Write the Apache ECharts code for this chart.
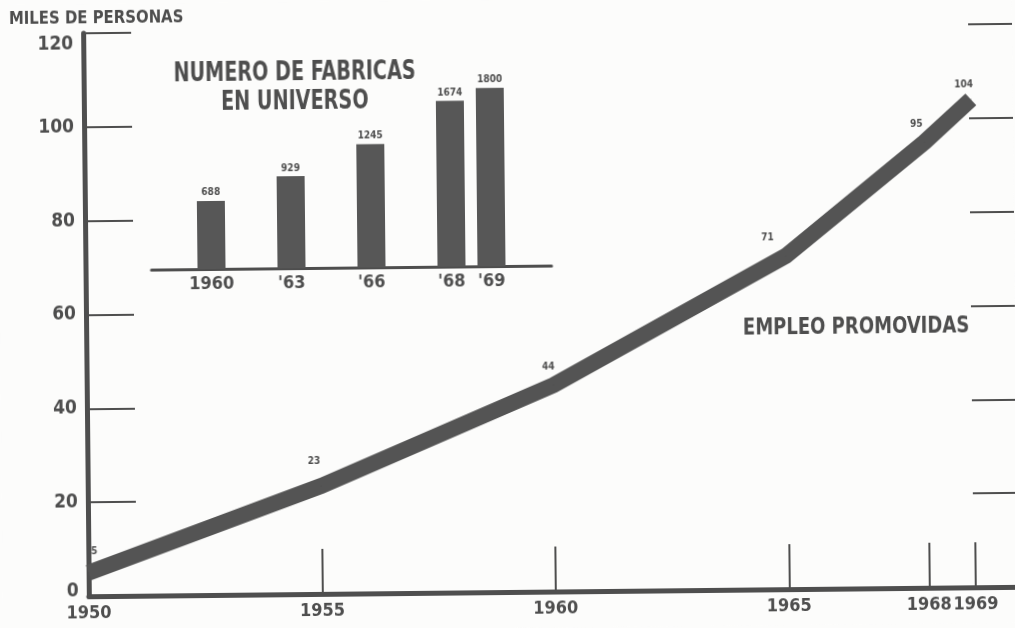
<!DOCTYPE html>
<html>
<head>
<meta charset="utf-8">
<title>Empleo promovidas</title>
<script src="https://cdn.jsdelivr.net/npm/echarts@6/dist/echarts.min.js"></script>
<style>
  html, body { margin: 0; padding: 0; background: #fcfcfb; overflow: hidden; }
  /* the scan is slightly tilted */
  #chart { width: 1015px; height: 628px; transform: rotate(-0.58deg); }
</style>
</head>
<body>
<div id="chart"></div>
<script>
  // main line: miles de personas
  const years = [1950, 1955, 1960, 1965, 1968, 1969]
  const empleo = [5, 23, 44, 71, 95, 104]
  const tickYears = [1955, 1960, 1965, 1968, 1969]

  // inset bars: numero de fabricas
  const fabricaLabels = ['1960', "'63", "'66", "'68", "'69"]
  const fabricas = [688, 929, 1245, 1674, 1800]

  const ink = '#4e4e4e'
  const font = "'Liberation Sans Narrow', 'DejaVu Sans Condensed', sans-serif"

  // where each point label sits (dx, dy)
  const labelShift = [[6, -12], [-7, -15], [-5, -9], [-18, -9], [-8, -8], [-7, -5]]
  // inset bars are not evenly spaced: slot of each bar on a 10 slot axis
  const insetSlots = [1, 3, 5, 7, 8]
  const slotCount = 10

  const insetCats = []
  const insetData = []
  for (let i = 0; i < slotCount; i++) {
    insetCats.push('')
    insetData.push(null)
  }
  insetSlots.forEach((s, i) => {
    insetCats[s] = fabricaLabels[i]
    insetData[s] = fabricas[i]
  })

  const lineData = years.map((y, i) => ({
    value: [y, empleo[i]],
    label: { offset: labelShift[i] }
  }))

  // condensed heading text
  function heading(text, x, y, size, sx, align) {
    return {
      type: 'text',
      x: x, y: y,
      scaleX: sx,
      style: { text: text, fill: ink, font: 'bold ' + size + 'px ' + font, align: align, verticalAlign: 'middle' }
    }
  }

  const chart = echarts.init(document.getElementById('chart'))
  chart.setOption({
    backgroundColor: '#fcfcfb',
    animation: false,
    textStyle: { fontFamily: font },
    grid: [
      { left: 86, right: -2, top: 29, bottom: 36 },
      { left: 152, width: 400, top: 68, bottom: 362 }
    ],
    xAxis: [{
      type: 'value',
      gridIndex: 0,
      min: 1950,
      max: 1969.9,
      splitLine: { show: false },
      axisLine: { show: true, lineStyle: { color: ink, width: 5 } },
      axisTick: {
        show: true,
        inside: true,
        length: 45,
        customValues: tickYears,
        lineStyle: { color: ink, width: 2 }
      },
      axisLabel: {
        customValues: years,
        formatter: v => String(v),
        hideOverlap: false,
        margin: 8,
        color: ink,
        fontWeight: 'bold',
        fontSize: 18,
        fontFamily: font
      }
    }, {
      // top frame line
      type: 'value',
      gridIndex: 0,
      position: 'top',
      min: 1950,
      max: 1969.9,
      splitLine: { show: false },
      axisLine: { show: true, lineStyle: { color: ink, width: 4 } },
      axisTick: { show: false },
      axisLabel: { show: false }
    }, {
      type: 'category',
      gridIndex: 1,
      data: insetCats,
      axisLine: { show: true, lineStyle: { color: ink, width: 3 } },
      axisTick: { show: false },
      axisLabel: {
        interval: 0,
        margin: 6,
        color: ink,
        fontWeight: 'bold',
        fontSize: 18,
        fontFamily: font
      }
    }],
    yAxis: [{
      type: 'value',
      gridIndex: 0,
      min: 0,
      max: 120,
      interval: 20,
      splitLine: { show: false },
      axisLine: { show: true, lineStyle: { color: ink, width: 5 } },
      axisTick: { show: true, inside: true, length: 48, lineStyle: { color: ink, width: 2 } },
      axisLabel: {
        margin: 10,
        color: ink,
        fontWeight: 'bold',
        fontSize: 19,
        fontFamily: font,
        formatter: v => v === 120 ? '{top|120}' : (v === 0 ? '{bot|0}' : String(v)),
        rich: {
          top: { padding: [22, 0, 0, 0], fontSize: 19, fontWeight: 'bold', color: ink, fontFamily: font },
          bot: { padding: [0, 0, 10, 0], fontSize: 19, fontWeight: 'bold', color: ink, fontFamily: font }
        }
      }
    }, {
      // right edge: ticks only
      type: 'value',
      gridIndex: 0,
      position: 'right',
      min: 0,
      max: 120,
      interval: 20,
      splitLine: { show: false },
      axisLine: { show: false },
      axisTick: { show: true, inside: true, length: 44, lineStyle: { color: ink, width: 2 } },
      axisLabel: { show: false }
    }, {
      type: 'value',
      gridIndex: 1,
      min: 0,
      max: 2000,
      show: false
    }],
    graphic: [
      heading('MILES DE PERSONAS', 12, 14, 18, 0.92, 'left'),
      heading('NUMERO DE FABRICAS', 297, 71, 27, 0.79, 'center'),
      heading('EN UNIVERSO', 297, 100, 27, 0.79, 'center'),
      heading('EMPLEO PROMOVIDAS', 856, 331, 23, 0.87, 'center')
    ],
    series: [{
      type: 'line',
      xAxisIndex: 0,
      yAxisIndex: 0,
      data: lineData,
      symbol: 'circle',
      symbolSize: 1,
      itemStyle: { color: ink },
      lineStyle: { color: '#545454', width: 16, cap: 'butt', join: 'miter' },
      label: {
        show: true,
        position: 'top',
        distance: 4,
        color: ink,
        fontWeight: 'bold',
        fontSize: 10,
        fontFamily: font
      },
      z: 3
    }, {
      type: 'bar',
      xAxisIndex: 2,
      yAxisIndex: 2,
      data: insetData,
      barWidth: 28,
      itemStyle: { color: '#575757' },
      label: {
        show: true,
        position: 'top',
        distance: 3,
        color: ink,
        fontWeight: 'bold',
        fontSize: 10,
        fontFamily: font
      }
    }]
  })
</script>
</body>
</html>
